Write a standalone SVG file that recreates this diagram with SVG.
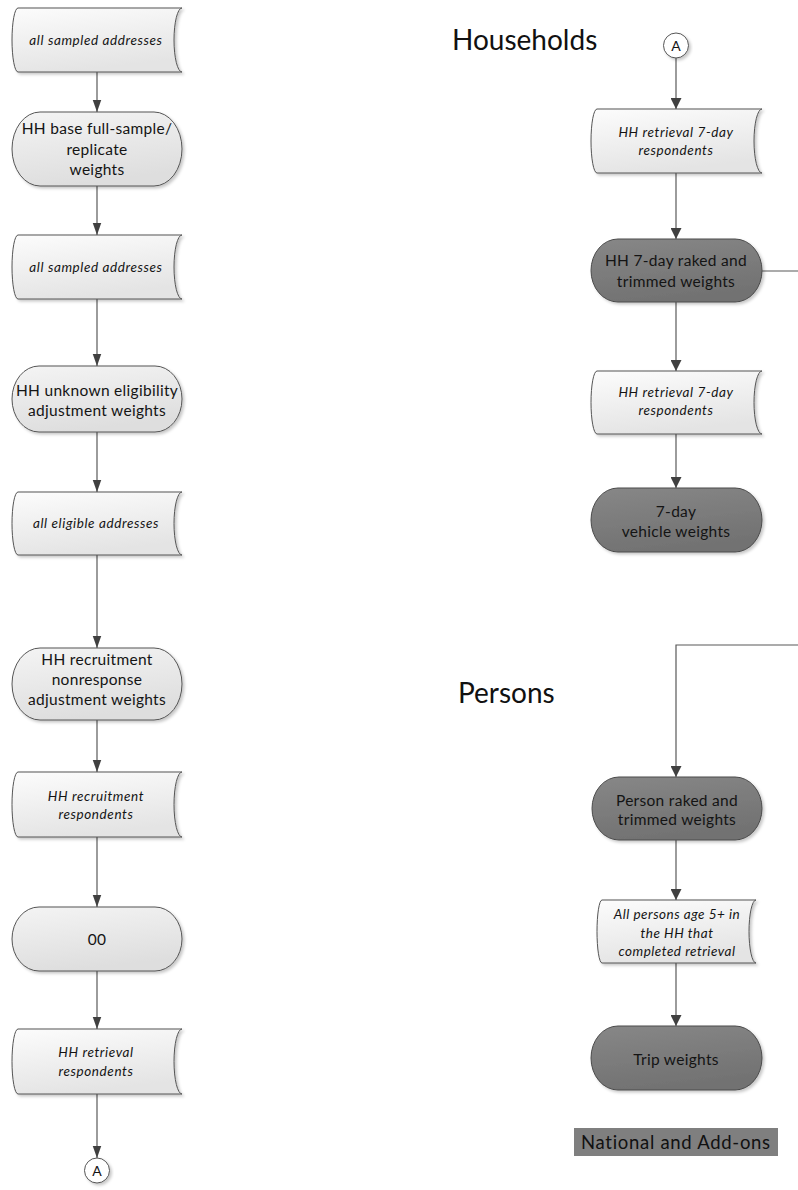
<svg xmlns="http://www.w3.org/2000/svg" width="798" height="1190" viewBox="0 0 798 1190">
  <style>
    .bg { fill: #ffffff; }
    .data { fill: url(#gLight); stroke: #555555; stroke-width: 1; filter: url(#shadow); }
    .pill { fill: url(#gPill); stroke: #555555; stroke-width: 1; filter: url(#shadow); }
    .dark { fill: url(#gDark); stroke: #4a4a4a; stroke-width: 1; filter: url(#shadow); }
    .conn { fill: #ffffff; stroke: #555555; stroke-width: 1; filter: url(#shadow); }
    .edge { fill: none; stroke: #595959; stroke-width: 1.2; }
    text { font-family: Lato, "Open Sans", "Liberation Sans", sans-serif; fill: #141414; text-anchor: middle; }
    .t { font-size: 15.5px; letter-spacing: 0.3px; }
    .it { font-size: 13.5px; font-style: italic; letter-spacing: 0.6px; }
    .its { font-size: 13.5px; font-style: italic; letter-spacing: 0.5px; }
    .title { font-size: 28px; text-anchor: start; fill: #111111; }
    .lbl { font-size: 18.5px; text-anchor: start; fill: #111111; letter-spacing: 0.7px; }
    .ca { font-size: 14px; }
  </style>
  <defs>
    <linearGradient id="gLight" x1="0" y1="0" x2="0.3" y2="1">
      <stop offset="0" stop-color="#fcfcfc"/>
      <stop offset="1" stop-color="#e4e4e4"/>
    </linearGradient>
    <linearGradient id="gPill" x1="0" y1="0" x2="0.3" y2="1">
      <stop offset="0" stop-color="#f4f4f4"/>
      <stop offset="1" stop-color="#dedede"/>
    </linearGradient>
    <linearGradient id="gDark" x1="0" y1="0" x2="0.3" y2="1">
      <stop offset="0" stop-color="#878787"/>
      <stop offset="1" stop-color="#727272"/>
    </linearGradient>
    <filter id="shadow" x="-10%" y="-10%" width="125%" height="130%">
      <feDropShadow dx="2" dy="2" stdDeviation="1.5" flood-color="#000000" flood-opacity="0.22"/>
    </filter>
    <marker id="arrL" markerUnits="userSpaceOnUse" markerWidth="12" markerHeight="17" refX="17" refY="6" orient="auto" viewBox="0 0 17 12">
      <path d="M0,0 L17,6 L0,12 Z" fill="#404040"/>
    </marker>
    <marker id="arrR" markerUnits="userSpaceOnUse" markerWidth="11" markerHeight="11" refX="11" refY="5.5" orient="auto" viewBox="0 0 11 11">
      <path d="M0,0 L11,5.5 L0,11 Z" fill="#404040"/>
    </marker>
  </defs>

  <rect class="bg" x="0" y="0" width="798" height="1190"/>

  <!-- connectors -->
  <g id="connectors">
    <path class="edge" d="M97,72 V112" marker-end="url(#arrL)"/>
    <path class="edge" d="M97,186 V235" marker-end="url(#arrL)"/>
    <path class="edge" d="M97,299 V366" marker-end="url(#arrL)"/>
    <path class="edge" d="M97,432 V492" marker-end="url(#arrL)"/>
    <path class="edge" d="M97,555 V648" marker-end="url(#arrL)"/>
    <path class="edge" d="M97,720 V772" marker-end="url(#arrL)"/>
    <path class="edge" d="M97,837 V907" marker-end="url(#arrL)"/>
    <path class="edge" d="M97,971 V1029" marker-end="url(#arrL)"/>
    <path class="edge" d="M97,1094 V1158" marker-end="url(#arrL)"/>

    <path class="edge" d="M676,58 V109" marker-end="url(#arrR)"/>
    <path class="edge" d="M676,173 V239" marker-end="url(#arrR)"/>
    <path class="edge" d="M676,302 V371" marker-end="url(#arrR)"/>
    <path class="edge" d="M676,434 V488" marker-end="url(#arrR)"/>
    <path class="edge" d="M762,271 H812 V645 H676 V777" marker-end="url(#arrR)"/>
    <path class="edge" d="M676,840 V900" marker-end="url(#arrR)"/>
    <path class="edge" d="M676,963 V1026" marker-end="url(#arrR)"/>
  </g>

  <!-- left column: household base weighting steps -->
  <g id="n1">
    <path class="data" d="M18,8 H182 A8,32 0 0 0 182,72 H18 A6,32 0 0 1 18,8 Z"/>
    <text class="it" x="96" y="45">all sampled addresses</text>
  </g>
  <g id="n2">
    <rect class="pill" x="12" y="112" width="170" height="74" rx="28" ry="37"/>
    <text class="t" x="97" y="134">HH base full-sample/</text>
    <text class="t" x="97" y="155">replicate</text>
    <text class="t" x="97" y="175">weights</text>
  </g>
  <g id="n3">
    <path class="data" d="M18,235 H182 A8,32 0 0 0 182,299 H18 A6,32 0 0 1 18,235 Z"/>
    <text class="it" x="96" y="272">all sampled addresses</text>
  </g>
  <g id="n4">
    <rect class="pill" x="12" y="366" width="170" height="66" rx="27" ry="33"/>
    <text class="t" x="97" y="396">HH unknown eligibility</text>
    <text class="t" x="97" y="416">adjustment weights</text>
  </g>
  <g id="n5">
    <path class="data" d="M18,492 H182 A8,31.5 0 0 0 182,555 H18 A6,31.5 0 0 1 18,492 Z"/>
    <text class="it" x="96" y="528">all eligible addresses</text>
  </g>
  <g id="n6">
    <rect class="pill" x="12" y="648" width="170" height="72" rx="28" ry="36"/>
    <text class="t" x="97" y="665">HH recruitment</text>
    <text class="t" x="97" y="685">nonresponse</text>
    <text class="t" x="97" y="705">adjustment weights</text>
  </g>
  <g id="n7">
    <path class="data" d="M18,772 H182 A8,32.5 0 0 0 182,837 H18 A6,32.5 0 0 1 18,772 Z"/>
    <text class="it" x="96" y="801">HH recruitment</text>
    <text class="it" x="96" y="819">respondents</text>
  </g>
  <g id="n8">
    <rect class="pill" x="12" y="907" width="170" height="64" rx="27" ry="32"/>
    <text class="t" x="97" y="945">00</text>
  </g>
  <g id="n9">
    <path class="data" d="M18,1029 H182 A8,32.5 0 0 0 182,1094 H18 A6,32.5 0 0 1 18,1029 Z"/>
    <text class="it" x="96" y="1057">HH retrieval</text>
    <text class="it" x="96" y="1076">respondents</text>
  </g>
  <g id="n10">
    <circle class="conn" cx="97" cy="1170.5" r="12.5"/>
    <text class="ca" x="97" y="1175.5">A</text>
  </g>

  <!-- right column: households -->
  <g id="hh-title">
    <text class="title" x="452" y="50">Households</text>
  </g>
  <g id="r1">
    <circle class="conn" cx="676" cy="45.5" r="12.5"/>
    <text class="ca" x="676" y="50.5">A</text>
  </g>
  <g id="r2">
    <path class="data" d="M597,109 H762 A8,32 0 0 0 762,173 H597 A6,32 0 0 1 597,109 Z"/>
    <text class="it" x="676" y="137">HH retrieval 7-day</text>
    <text class="it" x="676" y="155">respondents</text>
  </g>
  <g id="r3">
    <rect class="dark" x="591" y="239" width="171" height="63" rx="27" ry="31.5"/>
    <text class="t" x="676" y="266">HH 7-day raked and</text>
    <text class="t" x="676" y="287">trimmed weights</text>
  </g>
  <g id="r4">
    <path class="data" d="M597,371 H762 A8,31.5 0 0 0 762,434 H597 A6,31.5 0 0 1 597,371 Z"/>
    <text class="it" x="676" y="397">HH retrieval 7-day</text>
    <text class="it" x="676" y="415">respondents</text>
  </g>
  <g id="r5">
    <rect class="dark" x="591" y="488" width="171" height="64" rx="27" ry="32"/>
    <text class="t" x="676" y="517">7-day</text>
    <text class="t" x="676" y="537">vehicle weights</text>
  </g>

  <!-- right column: persons -->
  <g id="p-title">
    <text class="title" x="458" y="703">Persons</text>
  </g>
  <g id="p1">
    <rect class="dark" x="592" y="777" width="170" height="63" rx="27" ry="31.5"/>
    <text class="t" x="677" y="806">Person raked and</text>
    <text class="t" x="677" y="825">trimmed weights</text>
  </g>
  <g id="p2">
    <path class="data" d="M602,900 H756 A7,31.5 0 0 0 756,963 H602 A5,31.5 0 0 1 602,900 Z"/>
    <text class="its" x="677" y="919">All persons age 5+ in</text>
    <text class="its" x="677" y="938">the HH that</text>
    <text class="its" x="677" y="956">completed retrieval</text>
  </g>
  <g id="p3">
    <rect class="dark" x="591" y="1026" width="171" height="64" rx="27" ry="32"/>
    <text class="t" x="676" y="1065">Trip weights</text>
  </g>

  <!-- legend tag -->
  <g id="legend">
    <rect x="574" y="1128" width="204" height="28" fill="#7f7f7f"/>
    <text class="lbl" x="581" y="1149">National and Add-ons</text>
  </g>
</svg>
